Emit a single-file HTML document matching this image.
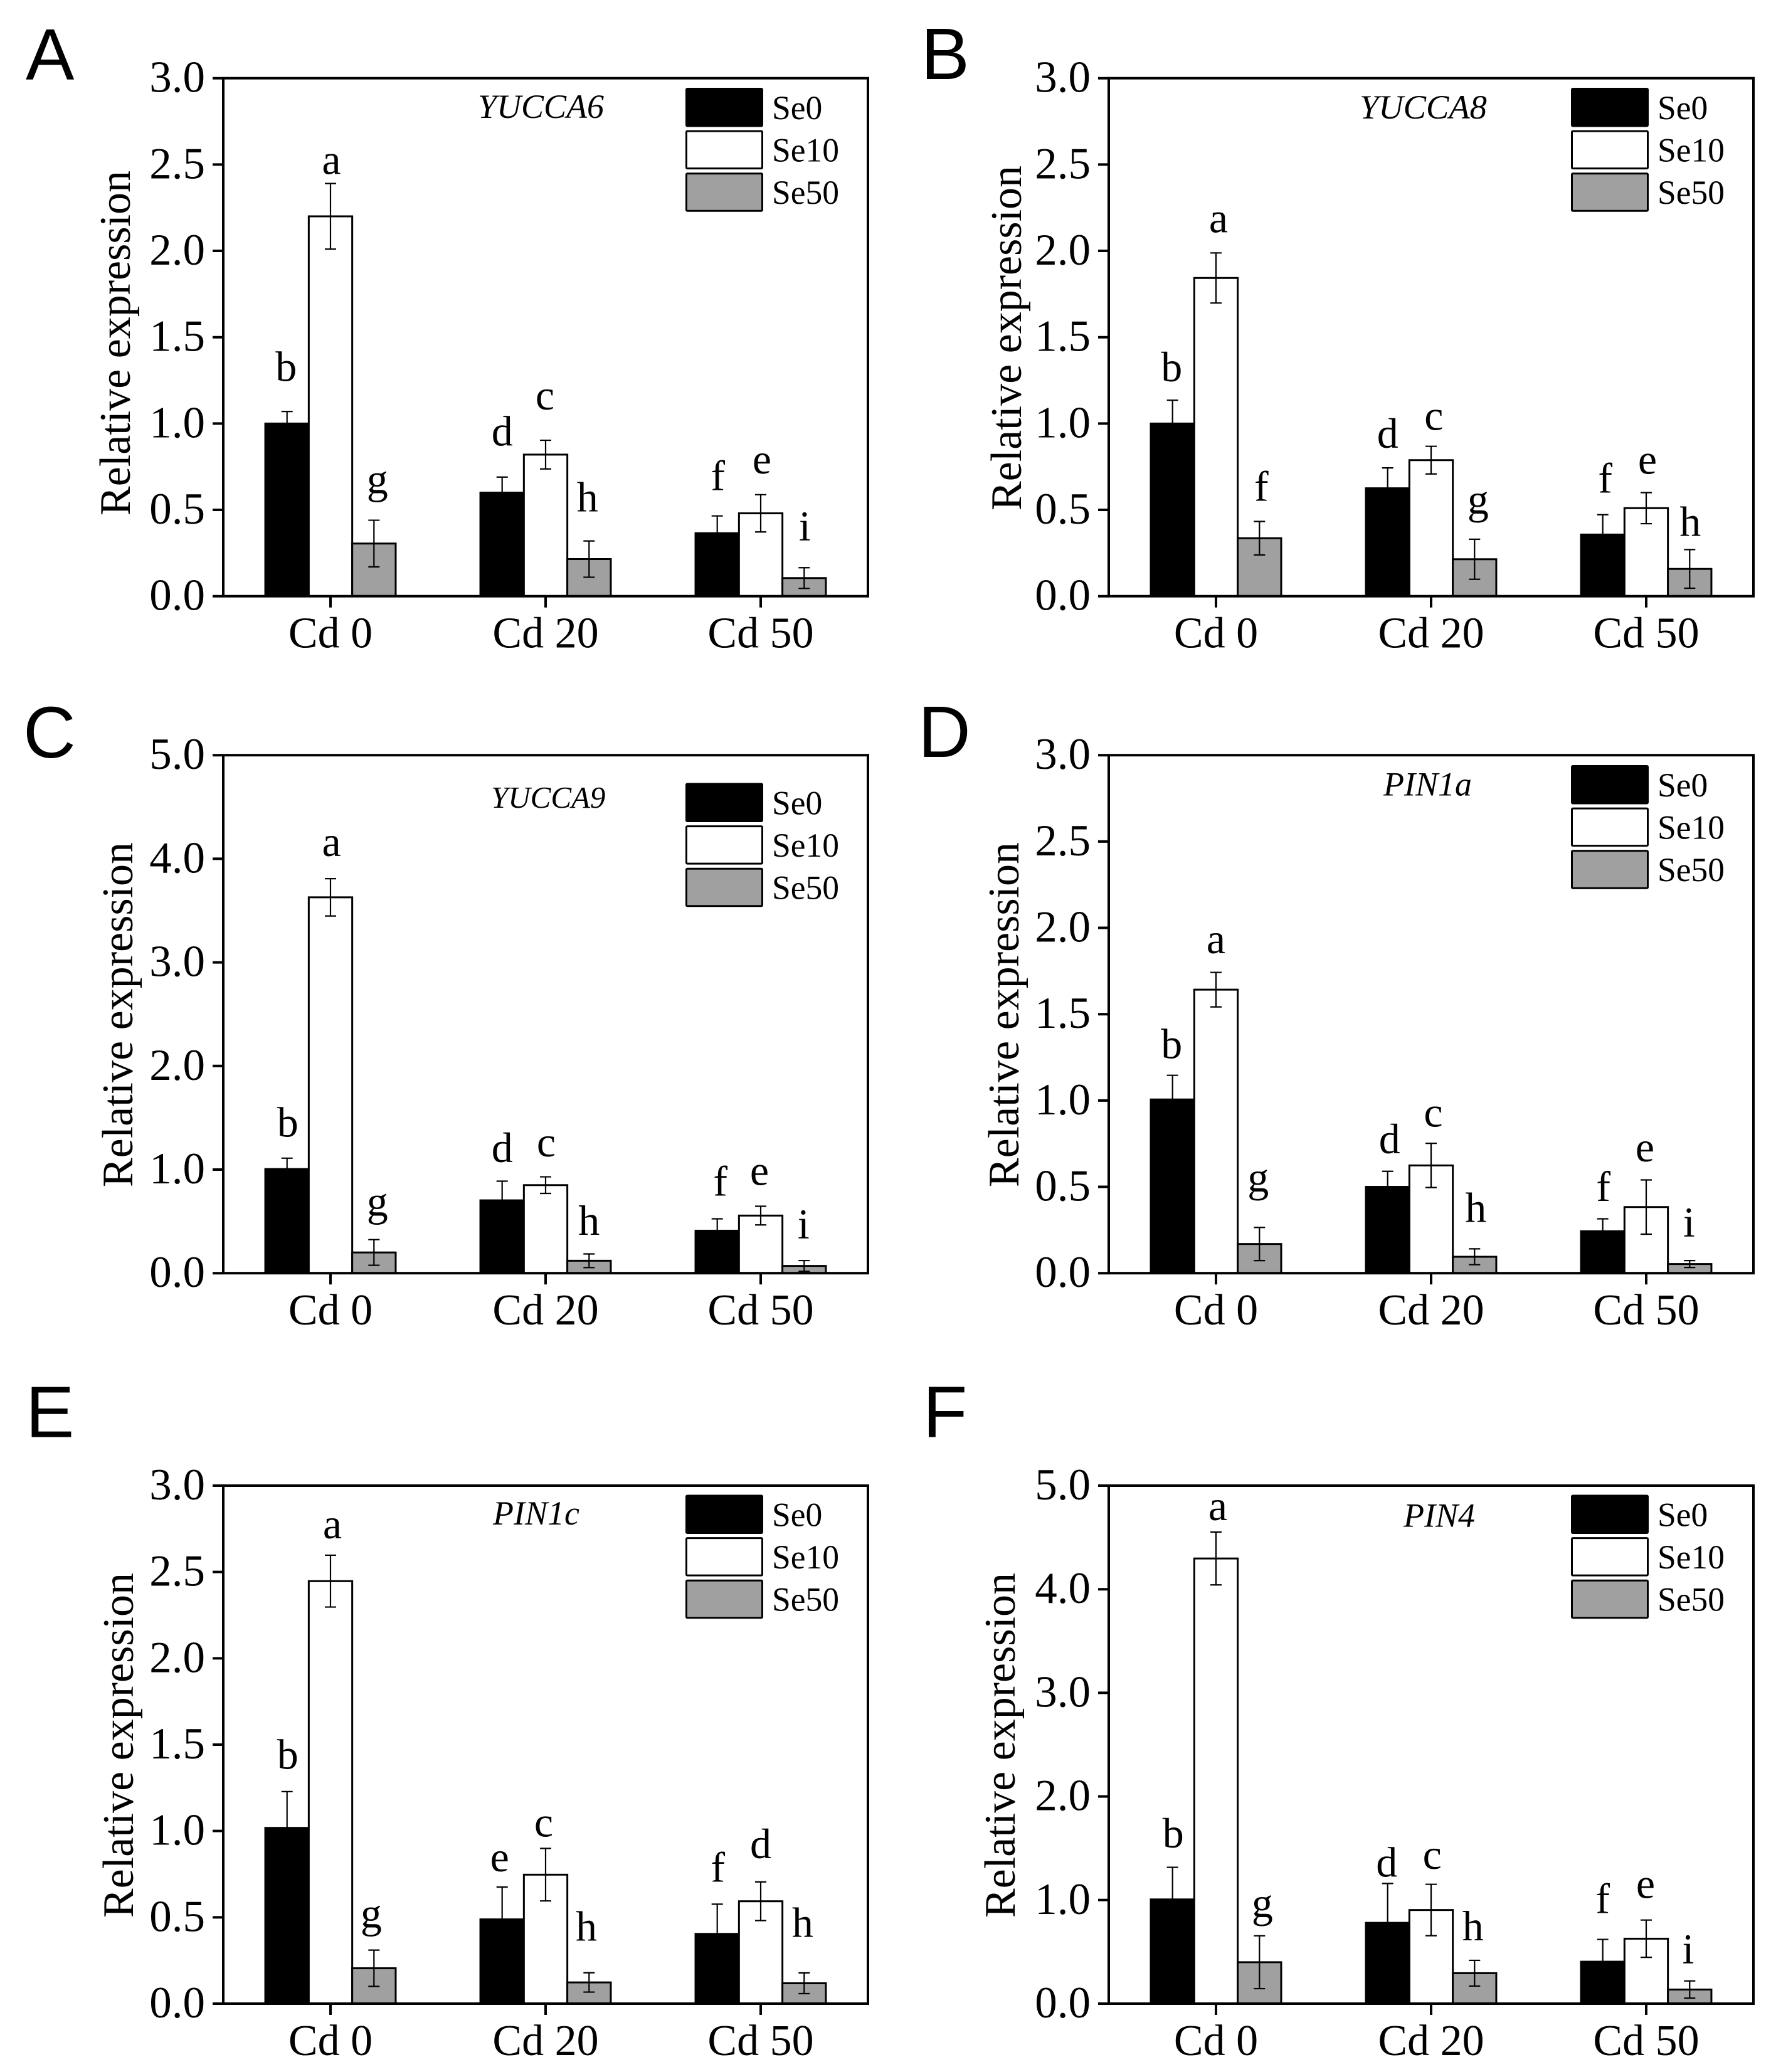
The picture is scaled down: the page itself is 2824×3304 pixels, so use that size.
<!DOCTYPE html>
<html lang="en">
<head>
<meta charset="utf-8">
<title>Relative expression of auxin genes</title>
<style>
html,body{margin:0;padding:0;background:#fff;}
svg{display:block;}
text{font-family:"Liberation Serif",serif;fill:#000;}
.letter{font-family:"Liberation Sans",sans-serif;}
</style>
</head>
<body>
<svg id="figure" xmlns="http://www.w3.org/2000/svg" width="2824" height="3304" viewBox="0 0 2824 3304"></svg>
<script>
// Shared categories and series
const categories = ['Cd 0', 'Cd 20', 'Cd 50'];
const seriesNames = ['Se0', 'Se10', 'Se50'];
const ticks30 = [0, 0.5, 1, 1.5, 2, 2.5, 3];
const ticks50 = [0, 1, 2, 3, 4, 5];

// Panel A - YUCCA6
const aSe0 = [1.0, 0.60, 0.365];
const aSe10 = [2.20, 0.82, 0.48];
const aSe50 = [0.305, 0.215, 0.105];
const aErr0 = [0.07, 0.09, 0.10];
const aErr10 = [0.19, 0.083, 0.108];
const aErr50 = [0.135, 0.105, 0.06];
const aLetters = ['b','a','g','d','c','h','f','e','i'];

// Panel B - YUCCA8
const bSe0 = [1.0, 0.625, 0.357];
const bSe10 = [1.843, 0.788, 0.51];
const bSe50 = [0.336, 0.214, 0.158];
const bErr0 = [0.135, 0.118, 0.115];
const bErr10 = [0.145, 0.08, 0.09];
const bErr50 = [0.097, 0.116, 0.112];
const bLetters = ['b','a','f','d','c','g','f','e','h'];

// Panel C - YUCCA9
const cSe0 = [1.005, 0.703, 0.41];
const cSe10 = [3.628, 0.85, 0.556];
const cSe50 = [0.20, 0.12, 0.07];
const cErr0 = [0.105, 0.185, 0.115];
const cErr10 = [0.18, 0.08, 0.09];
const cErr50 = [0.124, 0.066, 0.052];
const cLetters = ['b','a','g','d','c','h','f','e','i'];

// Panel D - PIN1a
const dSe0 = [1.006, 0.50, 0.243];
const dSe10 = [1.642, 0.624, 0.383];
const dSe50 = [0.169, 0.095, 0.053];
const dErr0 = [0.14, 0.09, 0.072];
const dErr10 = [0.10, 0.128, 0.157];
const dErr50 = [0.096, 0.046, 0.02];
const dLetters = ['b','a','g','d','c','h','f','e','i'];

// Panel E - PIN1c
const eSe0 = [1.018, 0.488, 0.404];
const eSe10 = [2.447, 0.747, 0.593];
const eSe50 = [0.205, 0.123, 0.118];
const eErr0 = [0.21, 0.187, 0.172];
const eErr10 = [0.15, 0.152, 0.112];
const eErr50 = [0.105, 0.056, 0.06];
const eLetters = ['b','a','g','e','c','h','f','d','h'];

// Panel F - PIN4
const fSe0 = [1.006, 0.78, 0.405];
const fSe10 = [4.297, 0.904, 0.627];
const fSe50 = [0.40, 0.294, 0.136];
const fErr0 = [0.31, 0.38, 0.215];
const fErr10 = [0.255, 0.248, 0.18];
const fErr50 = [0.255, 0.124, 0.083];
const fLetters = ['b','a','g','d','c','h','f','e','i'];

// Layout (separate from data)
const L = {left:356, right:1384, h:826, catStart:527, catStep:343, barStep:69.3};
const fills = ['#000000', '#ffffff', '#a0a0a0'];
const panels = [
  {id:'a', letter:'A', gene:'YUCCA6', dx:0, top:124.7, max:3, ticks:ticks30, digits:1,
   vals:[aSe0,aSe10,aSe50], errs:[aErr0,aErr10,aErr50], letters:aLetters,
   lift:[48.4,15.4,43,50,49,47,41,33.7,43.5], nudge:[-1.5,1.5,5.5,0,-1,-2.5,1,2,1],
   lx:41, ly:127, titleX:207, titleY:547, geneX:762, geneY:188, geneSize:54, legendTop:140},
  {id:'b', letter:'B', gene:'YUCCA8', dx:1412, top:124.7, max:3, ticks:ticks30, digits:1,
   vals:[bSe0,bSe10,bSe50], errs:[bErr0,bErr10,bErr50], letters:bLetters,
   lift:[30,33,33,32,26,41,35,30,22], nudge:[-1.5,4,3,0,4.4,5.6,4,2,1],
   lx:56.5, ly:126, titleX:216, titleY:539, geneX:756, geneY:189, geneSize:54.5, legendTop:140},
  {id:'c', letter:'C', gene:'YUCCA9', dx:0, top:1204.2, max:5, ticks:ticks50, digits:1,
   vals:[cSe0,cSe10,cSe50], errs:[cErr0,cErr10,cErr50], letters:cLetters,
   lift:[34.4,36,38,30.6,32.5,30.6,37,33.8,35], nudge:[1,1.6,5.5,0,1,0,5,-2,-1],
   lx:37, ly:1208, titleX:211, titleY:1618, geneX:783, geneY:1288, geneSize:49, legendTop:1248.5},
  {id:'d', letter:'D', gene:'PIN1a', dx:1412, top:1204.2, max:3, ticks:ticks30, digits:1,
   vals:[dSe0,dSe10,dSe50], errs:[dErr0,dErr10,dErr50], letters:dLetters,
   lift:[27.4,30.6,57,29,26.8,43,28.7,29.3,38], nudge:[-1.5,0,-2,3,3.5,2,1,-2,-1],
   lx:52, ly:1207, titleX:212, titleY:1618, geneX:794, geneY:1268.6, geneSize:54, legendTop:1220},
  {id:'e', letter:'E', gene:'PIN1c', dx:0, top:2369, max:3, ticks:ticks30, digits:1,
   vals:[eSe0,eSe10,eSe50], errs:[eErr0,eErr10,eErr50], letters:eLetters,
   lift:[36.6,26.8,36,25,19,51.4,36,38,57.7], nudge:[1,3,-4.4,-4,-3,-4.3,1,0,-2.4],
   lx:41, ly:2291.5, titleX:212, titleY:2783, geneX:786, geneY:2431, geneSize:54, legendTop:2383.5},
  {id:'f', letter:'F', gene:'PIN4', dx:1412, top:2369, max:5, ticks:ticks50, digits:1,
   vals:[fSe0,fSe10,fSe50], errs:[fErr0,fErr10,fErr50], letters:fLetters,
   lift:[31.7,19,29.6,11,24.6,31.7,42,35,28], nudge:[1,3,4.6,-1.4,1.7,-2.5,0,-1,-2.4],
   lx:59.5, ly:2291.5, titleX:206, titleY:2783, geneX:826, geneY:2434.5, geneSize:54, legendTop:2383.5}
];

const NS = 'http://www.w3.org/2000/svg';
const root = document.getElementById('figure');

function make(tag, attrs, parent, content) {
  const node = document.createElementNS(NS, tag);
  for (const k in attrs) node.setAttribute(k, attrs[k]);
  if (content !== undefined) node.textContent = content;
  parent.appendChild(node);
  return node;
}

panels.forEach(function (p) {
  const bottom = p.top + L.h;
  const yScale = function (v) { return bottom - (v / p.max) * L.h; };
  const xCat = function (i) { return p.dx + L.catStart + L.catStep * i; };
  const xBar = function (c, s) { return xCat(c) + (s - 1) * L.barStep; };
  const left = p.dx + L.left;
  const right = p.dx + L.right;

  const g = make('g', {}, root);
  
  

  const pl = make('text', {x: p.dx + p.lx, y: p.ly, 'class': 'letter', 'font-size': 116}, g, p.letter);
  
  

  // Bars and error bars
  p.vals.forEach(function (series, s) {
    series.forEach(function (v, c) {
      const cx = xBar(c, s);
      const top = yScale(v);
      const bar = make('rect', {x: cx - L.barStep / 2, y: top, width: L.barStep, height: bottom - top,
        fill: fills[s], stroke: '#000', 'stroke-width': 3}, g);
      
      

      const e = p.errs[s][c];
      const hi = yScale(v + e);
      const lo = yScale(v - e);
      const err = make('path', {d: 'M' + cx + ' ' + lo + 'V' + hi +
        'M' + (cx - 9) + ' ' + hi + 'H' + (cx + 9) + 'M' + (cx - 9) + ' ' + lo + 'H' + (cx + 9),
        fill: 'none', stroke: '#000', 'stroke-width': 2.2}, g);
      
      

      const idx = c * 3 + s;
      const sig = make('text', {x: cx + p.nudge[idx], y: hi - p.lift[idx], 'text-anchor': 'middle', 'font-size': 68}, g, p.letters[idx]);
      
      
    });
  });

  // Frame
  const frame = make('rect', {x: left, y: p.top, width: right - left, height: L.h, fill: 'none', stroke: '#000', 'stroke-width': 4}, g);
  
  

  // Y axis
  p.ticks.forEach(function (t) {
    const y = yScale(t);
    const tick = make('line', {x1: left - 17, x2: left, y1: y, y2: y, stroke: '#000', 'stroke-width': 4}, g);
    
    
    const lab = make('text', {x: p.dx + 327, y: y + 22, 'text-anchor': 'end', 'font-size': 71}, g, t.toFixed(p.digits));
    
    
  });

  // X axis
  categories.forEach(function (name, c) {
    const x = xCat(c);
    const tick = make('line', {x1: x, x2: x, y1: bottom, y2: bottom + 18, stroke: '#000', 'stroke-width': 4}, g);
    
    
    const lab = make('text', {x: x, y: bottom + 82, 'text-anchor': 'middle', 'font-size': 70}, g, name);
    
    
  });

  // Y title
  const title = make('text', {x: p.dx + p.titleX, y: p.titleY, 'text-anchor': 'middle', 'font-size': 70,
    transform: 'rotate(-90 ' + (p.dx + p.titleX) + ' ' + p.titleY + ')'}, g, 'Relative expression');
  
  

  // Gene label
  const gene = make('text', {x: p.dx + p.geneX, y: p.geneY, 'font-size': p.geneSize, 'font-style': 'italic'}, g, p.gene);
  
  

  // Legend
  seriesNames.forEach(function (name, s) {
    const ty = p.legendTop + s * 67.6;
    const swatch = make('rect', {x: p.dx + 1094.5, y: ty + 1.5, width: 121, height: 59.5, rx: 1.5,
      fill: fills[s], stroke: '#000', 'stroke-width': 3}, g);
    
    
    const lab = make('text', {x: p.dx + 1231, y: ty + 50, 'font-size': 53.5}, g, name);
    
    
  });
});
</script>
</body>
</html>
